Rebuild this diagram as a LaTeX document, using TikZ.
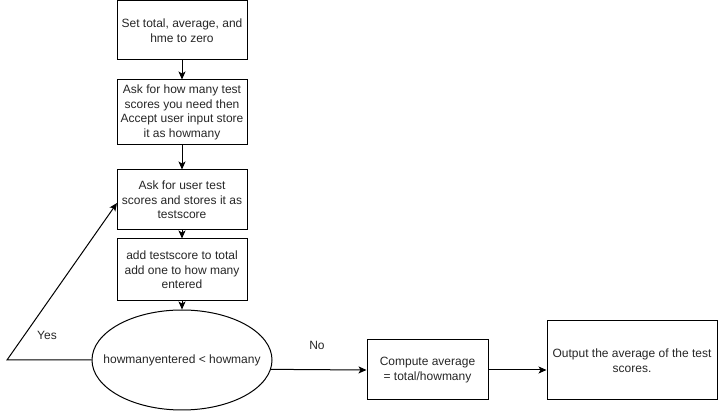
\documentclass[tikz,border=0pt]{standalone}
\usepackage{fontspec}
\setmainfont{Liberation Sans}
\usetikzlibrary{arrows.meta,shapes.geometric}
\begin{document}
\begin{tikzpicture}[x=1pt,y=-1pt,
  every node/.style={font=\fontsize{12}{14.5}\selectfont, text=black!85},
  stepbox/.style={draw, line width=1pt, align=center, inner sep=2pt},
  decision/.style={draw, ellipse, line width=1pt, inner sep=0pt},
  conn/.style={line width=1pt, -{Stealth[length=8pt,width=7pt,inset=2pt]}},
  lbl/.style={inner sep=0pt}]
\useasboundingbox (0,0) rectangle (718,411);

\node[stepbox, minimum width=130, minimum height=59] (b1) at (182,30.5)
  {Set total, average, and\\hme to zero};
\node[stepbox, minimum width=130, minimum height=65] (b2) at (182,112.5)
  {Ask for how many test\\scores you need then\\Accept user input store\\it as howmany};
\node[stepbox, minimum width=130, minimum height=60] (b3) at (182,200)
  {Ask for user test\\scores and stores it as\\testscore};
\node[stepbox, minimum width=130, minimum height=62] (b4) at (182,270)
  {add testscore to total\\add one to how many\\entered};
\node[decision, minimum width=180, minimum height=100] (ell) at (182,360)
  {\makebox[0pt]{howmanyentered < howmany}};
\node[stepbox, minimum width=121, minimum height=60] (cmp) at (427.5,370)
  {Compute average\\= total/howmany};
\node[stepbox, minimum width=170, minimum height=79] (out) at (632,360.5)
  {Output the average of the test\\scores.};

\coordinate (corner) at (7,360);
\coordinate (loopin) at (117,203);

\draw[conn] (b1) -- (b2);
\draw[conn] (b2) -- (b3);
\draw[conn] (b3) -- (b4);
\draw[conn] (b4) -- (ell);
\draw[conn] (ell.west) -- (corner) -- (loopin);
\draw[conn] (ell.-6.5) -- (cmp.west);
\draw[conn] (cmp.east) -- (cmp.east -| out.west);

\node[lbl] (yes) at (47,335) {Yes};
\node[lbl] (no) at (317,345) {No};
\end{tikzpicture}
\end{document}
